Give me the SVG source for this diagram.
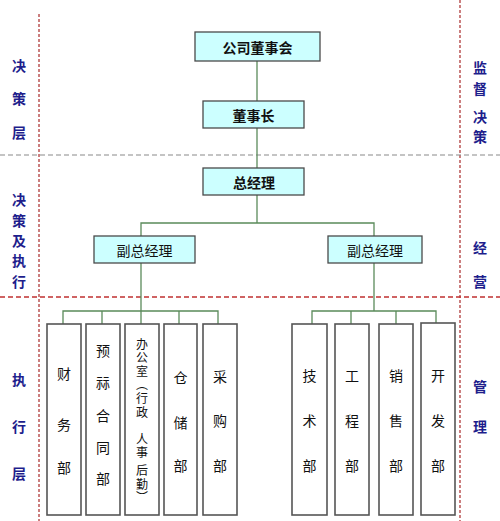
<svg xmlns="http://www.w3.org/2000/svg" width="500" height="521" viewBox="0 0 500 521">
<style>
.bg{fill:#ffffff}
.div-v{stroke:#b03a3a;stroke-width:1.3;stroke-dasharray:3 2;fill:none}
.div-h1{stroke:#8a8a8a;stroke-width:1.2;stroke-dasharray:5 3;fill:none}
.div-h2{stroke:#c03030;stroke-width:1.3;stroke-dasharray:5 3;fill:none}
.side{font-family:"Noto Sans CJK SC","Noto Sans",sans-serif;font-size:14px;font-weight:bold;fill:#1e1e8c;text-anchor:middle;dominant-baseline:central}
.top{fill:#ccffff;stroke:#4a4a4a;stroke-width:1.3}
.dept{fill:#ffffff;stroke:#555555;stroke-width:1.6}
.t{font-family:"Noto Sans CJK SC","Noto Sans",sans-serif;font-size:14px;fill:#111111;text-anchor:middle;dominant-baseline:central}
.tb{font-weight:bold}
.vt{font-family:"Noto Sans CJK SC","Noto Sans",sans-serif;font-size:12px;fill:#111111;writing-mode:vertical-rl;text-anchor:start;letter-spacing:1.6px}
.conn{stroke:#5a8a5a;stroke-width:1.3;fill:none}
</style>
<rect class="bg" x="0" y="0" width="500" height="521"/>

<g id="dividers">
<line class="div-v" x1="39" y1="14" x2="39" y2="521"/>
<line class="div-v" x1="460" y1="0" x2="460" y2="521"/>
<line class="div-h1" x1="0" y1="155" x2="500" y2="155"/>
<line class="div-h2" x1="0" y1="297" x2="500" y2="297"/>
</g>

<g id="side-labels">
<text class="side"><tspan x="19" y="65">决</tspan><tspan x="19" y="98">策</tspan><tspan x="19" y="132">层</tspan></text>
<text class="side"><tspan x="19" y="199">决</tspan><tspan x="19" y="220">策</tspan><tspan x="19" y="240">及</tspan><tspan x="19" y="260">执</tspan><tspan x="19" y="281">行</tspan></text>
<text class="side"><tspan x="19" y="379">执</tspan><tspan x="19" y="426">行</tspan><tspan x="19" y="473">层</tspan></text>
<text class="side"><tspan x="480" y="67">监</tspan><tspan x="480" y="88">督</tspan><tspan x="480" y="116">决</tspan><tspan x="480" y="136">策</tspan></text>
<text class="side"><tspan x="480" y="247">经</tspan><tspan x="480" y="281">营</tspan></text>
<text class="side"><tspan x="480" y="386">管</tspan><tspan x="480" y="426">理</tspan></text>
</g>

<g id="connectors">
<line class="conn" x1="257" y1="61" x2="257" y2="101"/>
<line class="conn" x1="257" y1="128" x2="257" y2="168"/>
<line class="conn" x1="257" y1="195" x2="257" y2="223"/>
<polyline class="conn" points="141,236 141,223 374,223 374,236"/>
<line class="conn" x1="141" y1="263" x2="141" y2="324"/>
<polyline class="conn" points="63,324 63,311 218,311 218,324"/>
<line class="conn" x1="102" y1="311" x2="102" y2="324"/>
<line class="conn" x1="179" y1="311" x2="179" y2="324"/>
<line class="conn" x1="374" y1="263" x2="374" y2="311"/>
<polyline class="conn" points="312,324 312,311 436,311 436,323"/>
<line class="conn" x1="351" y1="311" x2="351" y2="324"/>
<line class="conn" x1="396" y1="311" x2="396" y2="324"/>
</g>

<g id="n-board">
<rect class="top" x="195" y="32" width="125" height="29"/>
<text class="t tb" x="257.5" y="46.5">公司董事会</text>
</g>
<g id="n-chairman">
<rect class="top" x="203" y="101" width="101" height="27"/>
<text class="t tb" x="253.5" y="114.5">董事长</text>
</g>
<g id="n-gm">
<rect class="top" x="203" y="168" width="101" height="27"/>
<text class="t tb" x="254" y="181.5">总经理</text>
</g>
<g id="n-vgm-left">
<rect class="top" x="94" y="236" width="101" height="27"/>
<text class="t" x="144.5" y="249.5">副总经理</text>
</g>
<g id="n-vgm-right">
<rect class="top" x="328" y="236" width="94" height="27"/>
<text class="t" x="375" y="249.5">副总经理</text>
</g>

<g id="n-finance">
<rect class="dept" x="47" y="324" width="34" height="191"/>
<text class="t"><tspan x="64" y="373">财</tspan><tspan x="64" y="424">务</tspan><tspan x="64" y="467">部</tspan></text>
</g>
<g id="n-budget">
<rect class="dept" x="86" y="324" width="34" height="191"/>
<text class="t"><tspan x="103" y="350">预</tspan><tspan x="103" y="382">祘</tspan><tspan x="103" y="415">合</tspan><tspan x="103" y="447">同</tspan><tspan x="103" y="478">部</tspan></text>
</g>
<g id="n-office">
<rect class="dept" x="125" y="324" width="34" height="191"/>
<text class="vt" x="142" y="338">办公室（行政　人事 后勤）</text>
</g>
<g id="n-storage">
<rect class="dept" x="164" y="324" width="33" height="191"/>
<text class="t"><tspan x="180.5" y="377">仓</tspan><tspan x="180.5" y="422">储</tspan><tspan x="180.5" y="465">部</tspan></text>
</g>
<g id="n-purchase">
<rect class="dept" x="203" y="324" width="34" height="191"/>
<text class="t"><tspan x="220" y="376">采</tspan><tspan x="220" y="420">购</tspan><tspan x="220" y="465">部</tspan></text>
</g>

<g id="n-tech">
<rect class="dept" x="292" y="324" width="35" height="191"/>
<text class="t"><tspan x="309.5" y="375">技</tspan><tspan x="309.5" y="420">术</tspan><tspan x="309.5" y="465">部</tspan></text>
</g>
<g id="n-eng">
<rect class="dept" x="335" y="324" width="34" height="191"/>
<text class="t"><tspan x="352" y="375">工</tspan><tspan x="352" y="420">程</tspan><tspan x="352" y="465">部</tspan></text>
</g>
<g id="n-sales">
<rect class="dept" x="379" y="324" width="34" height="191"/>
<text class="t"><tspan x="396" y="375">销</tspan><tspan x="396" y="420">售</tspan><tspan x="396" y="465">部</tspan></text>
</g>
<g id="n-dev">
<rect class="dept" x="421" y="323" width="34" height="192"/>
<text class="t"><tspan x="438" y="375">开</tspan><tspan x="438" y="420">发</tspan><tspan x="438" y="465">部</tspan></text>
</g>
</svg>
